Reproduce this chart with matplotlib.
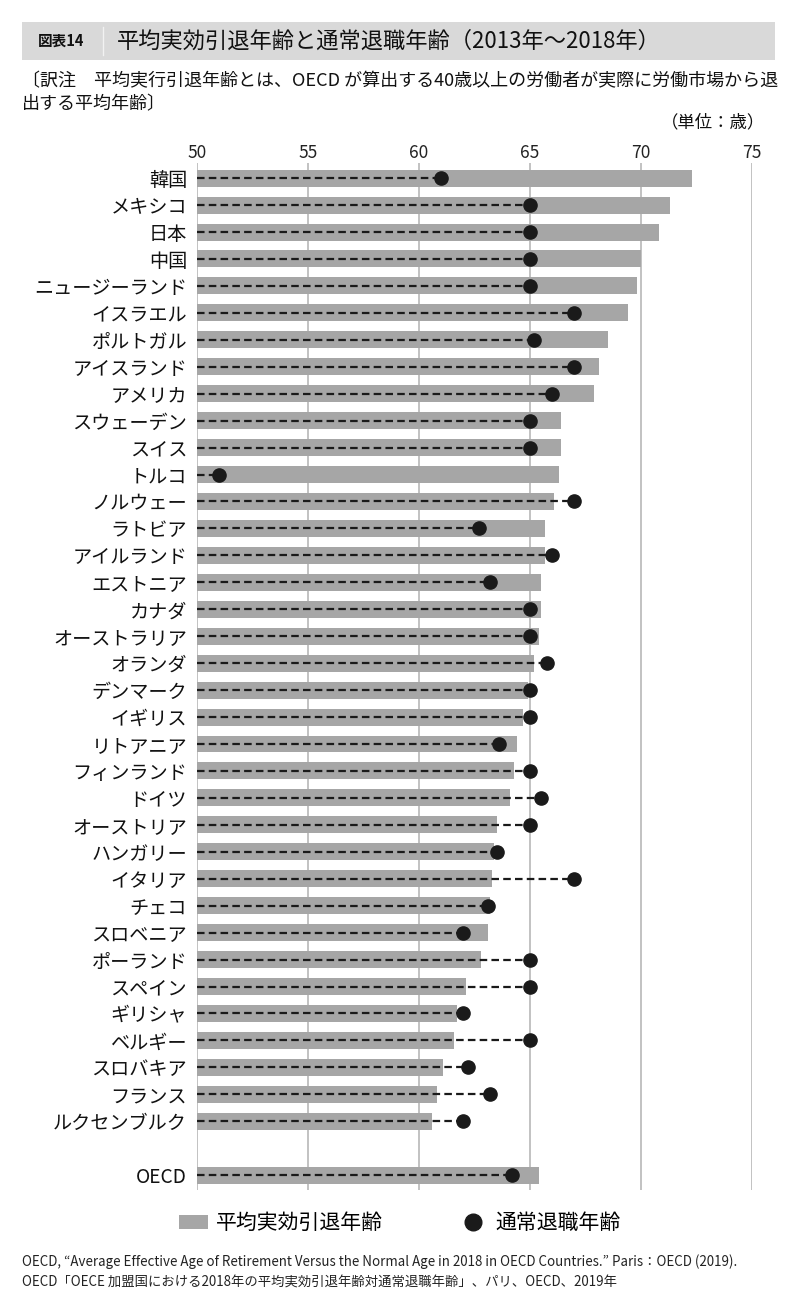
import numpy as np
import matplotlib
matplotlib.use("Agg")
import matplotlib.pyplot as plt
from matplotlib.patches import Patch, Rectangle
from matplotlib.lines import Line2D

plt.rcParams['font.family'] = ['Noto Sans CJK JP', 'DejaVu Sans']

#------------- data -------------#
countries = ["韓国", "メキシコ", "日本", "中国", "ニュージーランド", "イスラエル",
             "ポルトガル", "アイスランド", "アメリカ", "スウェーデン", "スイス", "トルコ",
             "ノルウェー", "ラトビア", "アイルランド", "エストニア", "カナダ",
             "オーストラリア", "オランダ", "デンマーク", "イギリス", "リトアニア",
             "フィンランド", "ドイツ", "オーストリア", "ハンガリー", "イタリア", "チェコ",
             "スロベニア", "ポーランド", "スペイン", "ギリシャ", "ベルギー", "スロバキア",
             "フランス", "ルクセンブルク", "OECD"]

# 平均実効引退年齢 (bars)
effective_age = [72.3, 71.3, 70.8, 70.0, 69.8, 69.4, 68.5, 68.1, 67.9, 66.4, 66.4, 66.3,
                 66.1, 65.7, 65.7, 65.5, 65.5, 65.4, 65.2, 64.9, 64.7, 64.4,
                 64.3, 64.1, 63.5, 63.4, 63.3, 63.2, 63.1, 62.8, 62.1, 61.7, 61.6, 61.1,
                 60.8, 60.6, 65.4]

# 通常退職年齢 (dots)
normal_age = [61.0, 65.0, 65.0, 65.0, 65.0, 67.0, 65.2, 67.0, 66.0, 65.0, 65.0, 51.0,
              67.0, 62.7, 66.0, 63.2, 65.0, 65.0, 65.75, 65.0, 65.0, 63.6,
              65.0, 65.5, 65.0, 63.5, 67.0, 63.1, 62.0, 65.0, 65.0, 62.0, 65.0, 62.2,
              63.2, 62.0, 64.2]

xticks = [50, 55, 60, 65, 70, 75]

# row positions: one empty row before OECD
ypos = list(range(len(countries) - 1)) + [len(countries)]

bar_color = "#a6a6a6"
dot_color = "#1a1a1a"

fig = plt.figure(figsize=(8, 13.05), dpi=100)
ax = fig.add_axes([0.246, 0.088, 0.694, 0.787])

for x in xticks:
    ax.axvline(x, color="#bdbdbd", lw=1.3, zorder=0)

ax.barh(ypos, [v - 50 for v in effective_age], left=50, height=0.63,
        color=bar_color, zorder=1)

for y, v in zip(ypos, normal_age):
    ax.plot([50, v], [y, y], color=dot_color, lw=1.6,
            linestyle=(0, (3.4, 1.9)), zorder=2)
ax.plot(normal_age, ypos, 'o', color=dot_color, markersize=9.5, zorder=3)

ax.set_xlim(50, 75)
ax.set_ylim(37.557, -0.557)
ax.xaxis.tick_top()
ax.set_xticks(xticks)
ax.tick_params(axis='x', length=0, pad=1, labelsize=12.5, labelcolor="#222222")
ax.set_yticks(ypos)
ax.set_yticklabels(countries, fontsize=13.8)
ax.tick_params(axis='y', length=0, pad=7, labelcolor="#111111")
for s in ax.spines.values():
    s.set_visible(False)

#------------- title band -------------#
fig.patches.append(Rectangle((0.0275, 0.954), 0.9415, 0.029, transform=fig.transFigure,
                             facecolor="#d9d9d9", edgecolor="none", zorder=0))
fig.lines.append(Line2D([0.129, 0.129], [0.958, 0.979], transform=fig.transFigure,
                        color="#f2f2f2", lw=1.0))
fig.text(0.047, 0.9685, "図表14", fontsize=10.5, va="center", ha="left",
         color="#111111", fontweight="bold")
fig.text(0.146, 0.9685, "平均実効引退年齢と通常退職年齢（2013年〜2018年）", fontsize=16,
         va="center", ha="left", color="#111111")

fig.text(0.0275, 0.938, "〔訳注　平均実行引退年齢とは、OECD が算出する40歳以上の労働者が実際に労働市場から退",
         fontsize=13, va="center", ha="left", color="#111111")
fig.text(0.0275, 0.920, "出する平均年齢〕", fontsize=13, va="center", ha="left", color="#111111")
fig.text(0.957, 0.9065, "（単位：歳）", fontsize=12.5, va="center", ha="right", color="#111111")

#------------- legend -------------#
handles = [Patch(facecolor=bar_color, edgecolor="none", label="平均実効引退年齢"),
           Line2D([], [], marker='o', color=dot_color, lw=0, markersize=12, label="通常退職年齢")]
fig.legend(handles=handles, loc="center", bbox_to_anchor=(0.5, 0.0625), ncol=2,
           frameon=False, fontsize=15, columnspacing=3.6, handlelength=1.4,
           handletextpad=0.4)

#------------- source -------------#
fig.text(0.0275, 0.0335, "OECD, “Average Effective Age of Retirement Versus the Normal Age in 2018 in OECD Countries.” Paris：OECD (2019).",
         fontsize=9.6, va="center", ha="left", color="#222222")
fig.text(0.0275, 0.0175, "OECD「OECE 加盟国における2018年の平均実効引退年齢対通常退職年齢」、パリ、OECD、2019年",
         fontsize=9.6, va="center", ha="left", color="#222222")

fig.savefig("out.png", dpi=100)
